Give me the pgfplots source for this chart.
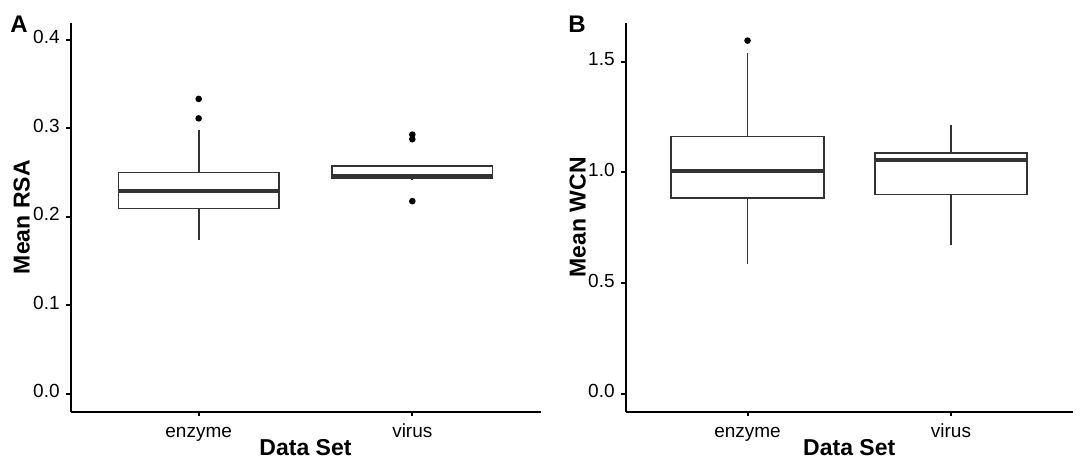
\documentclass[border=0pt]{standalone}
\usepackage{fontspec}
\setmainfont{Liberation Sans}
\usepackage{pgfplots}
\pgfplotsset{compat=1.18}
\usepgfplotslibrary{statistics}

\definecolor{boxcol}{gray}{0.2}

\pgfplotsset{
  panel/.style={
    scale only axis, height=194.5pt, anchor=south west,
    xmin=0.4, xmax=2.6, xtick={1,2}, xticklabels={enzyme,virus},
    axis lines*=left,
    axis line style={line width=1pt,black},
    tick align=outside, major tick length=2.2pt,
    major tick style={line width=1pt,black},
    ticklabel style={font=\fontsize{9.5}{10}\selectfont},
    typeset ticklabels with strut,
    /pgf/number format/assume math mode=true,
    yticklabel style={xshift=0.3pt, /pgf/number format/fixed,
      /pgf/number format/fixed zerofill, /pgf/number format/precision=1},
    label style={font=\bfseries\fontsize{11.5}{13}\selectfont},
    boxplot/draw direction=y,
    boxplot/every median/.style={line width=2pt},
    clip=false,
  },
  bx/.style={draw=boxcol, line width=0.85pt, fill=white, mark=*,
    mark size=1.2pt, mark options={fill=black,draw=black,solid}},
}

\begin{document}
\begin{tikzpicture}
\useasboundingbox (0,0) rectangle (544.5pt,229.5pt);

% panel A: mean RSA
\begin{axis}[panel, at={(35.25pt,23.65pt)}, width=235pt,
  ymin=-0.02, ymax=0.419, ytick={0,0.1,0.2,0.3,0.4},
  xlabel={Data Set}, ylabel={Mean RSA},
  xlabel style={at={(axis description cs:0.5,-0.0925)},anchor=center},
  ylabel style={at={(axis description cs:-0.104,0.5)},anchor=center},
]
\addplot[bx, boxplot prepared={draw position=1, box extend=0.75, whisker extend=0,
  lower whisker=0.1736, lower quartile=0.2094, median=0.2285,
  upper quartile=0.250, upper whisker=0.2984}]
  coordinates {(0,0.333) (0,0.311)};
\addplot[bx, boxplot prepared={draw position=2, box extend=0.75, whisker extend=0,
  lower whisker=0.241, lower quartile=0.2435, median=0.2455,
  upper quartile=0.2575, upper whisker=0.2575}]
  coordinates {(0,0.2927) (0,0.2875) (0,0.2176)};
\end{axis}

% panel B: mean WCN
\begin{axis}[panel, at={(312.75pt,23.65pt)}, width=223.75pt,
  ymin=-0.08, ymax=1.676, ytick={0,0.5,1,1.5},
  xlabel={Data Set}, ylabel={Mean WCN},
  xlabel style={at={(axis description cs:0.5,-0.0925)},anchor=center},
  ylabel style={at={(axis description cs:-0.107,0.5)},anchor=center},
]
\addplot[bx, boxplot prepared={draw position=1, box extend=0.75, whisker extend=0,
  lower whisker=0.586, lower quartile=0.885, median=1.008,
  upper quartile=1.162, upper whisker=1.541}]
  coordinates {(0,1.595)};
\addplot[bx, boxplot prepared={draw position=2, box extend=0.75, whisker extend=0,
  lower whisker=0.672, lower quartile=0.900, median=1.056,
  upper quartile=1.089, upper whisker=1.215}]
  coordinates {};
\end{axis}

\node[font=\bfseries\fontsize{12}{13}\selectfont] at (9.5pt,217.5pt) {A};
\node[font=\bfseries\fontsize{12}{13}\selectfont] at (288.5pt,217.5pt) {B};
\end{tikzpicture}
\end{document}
